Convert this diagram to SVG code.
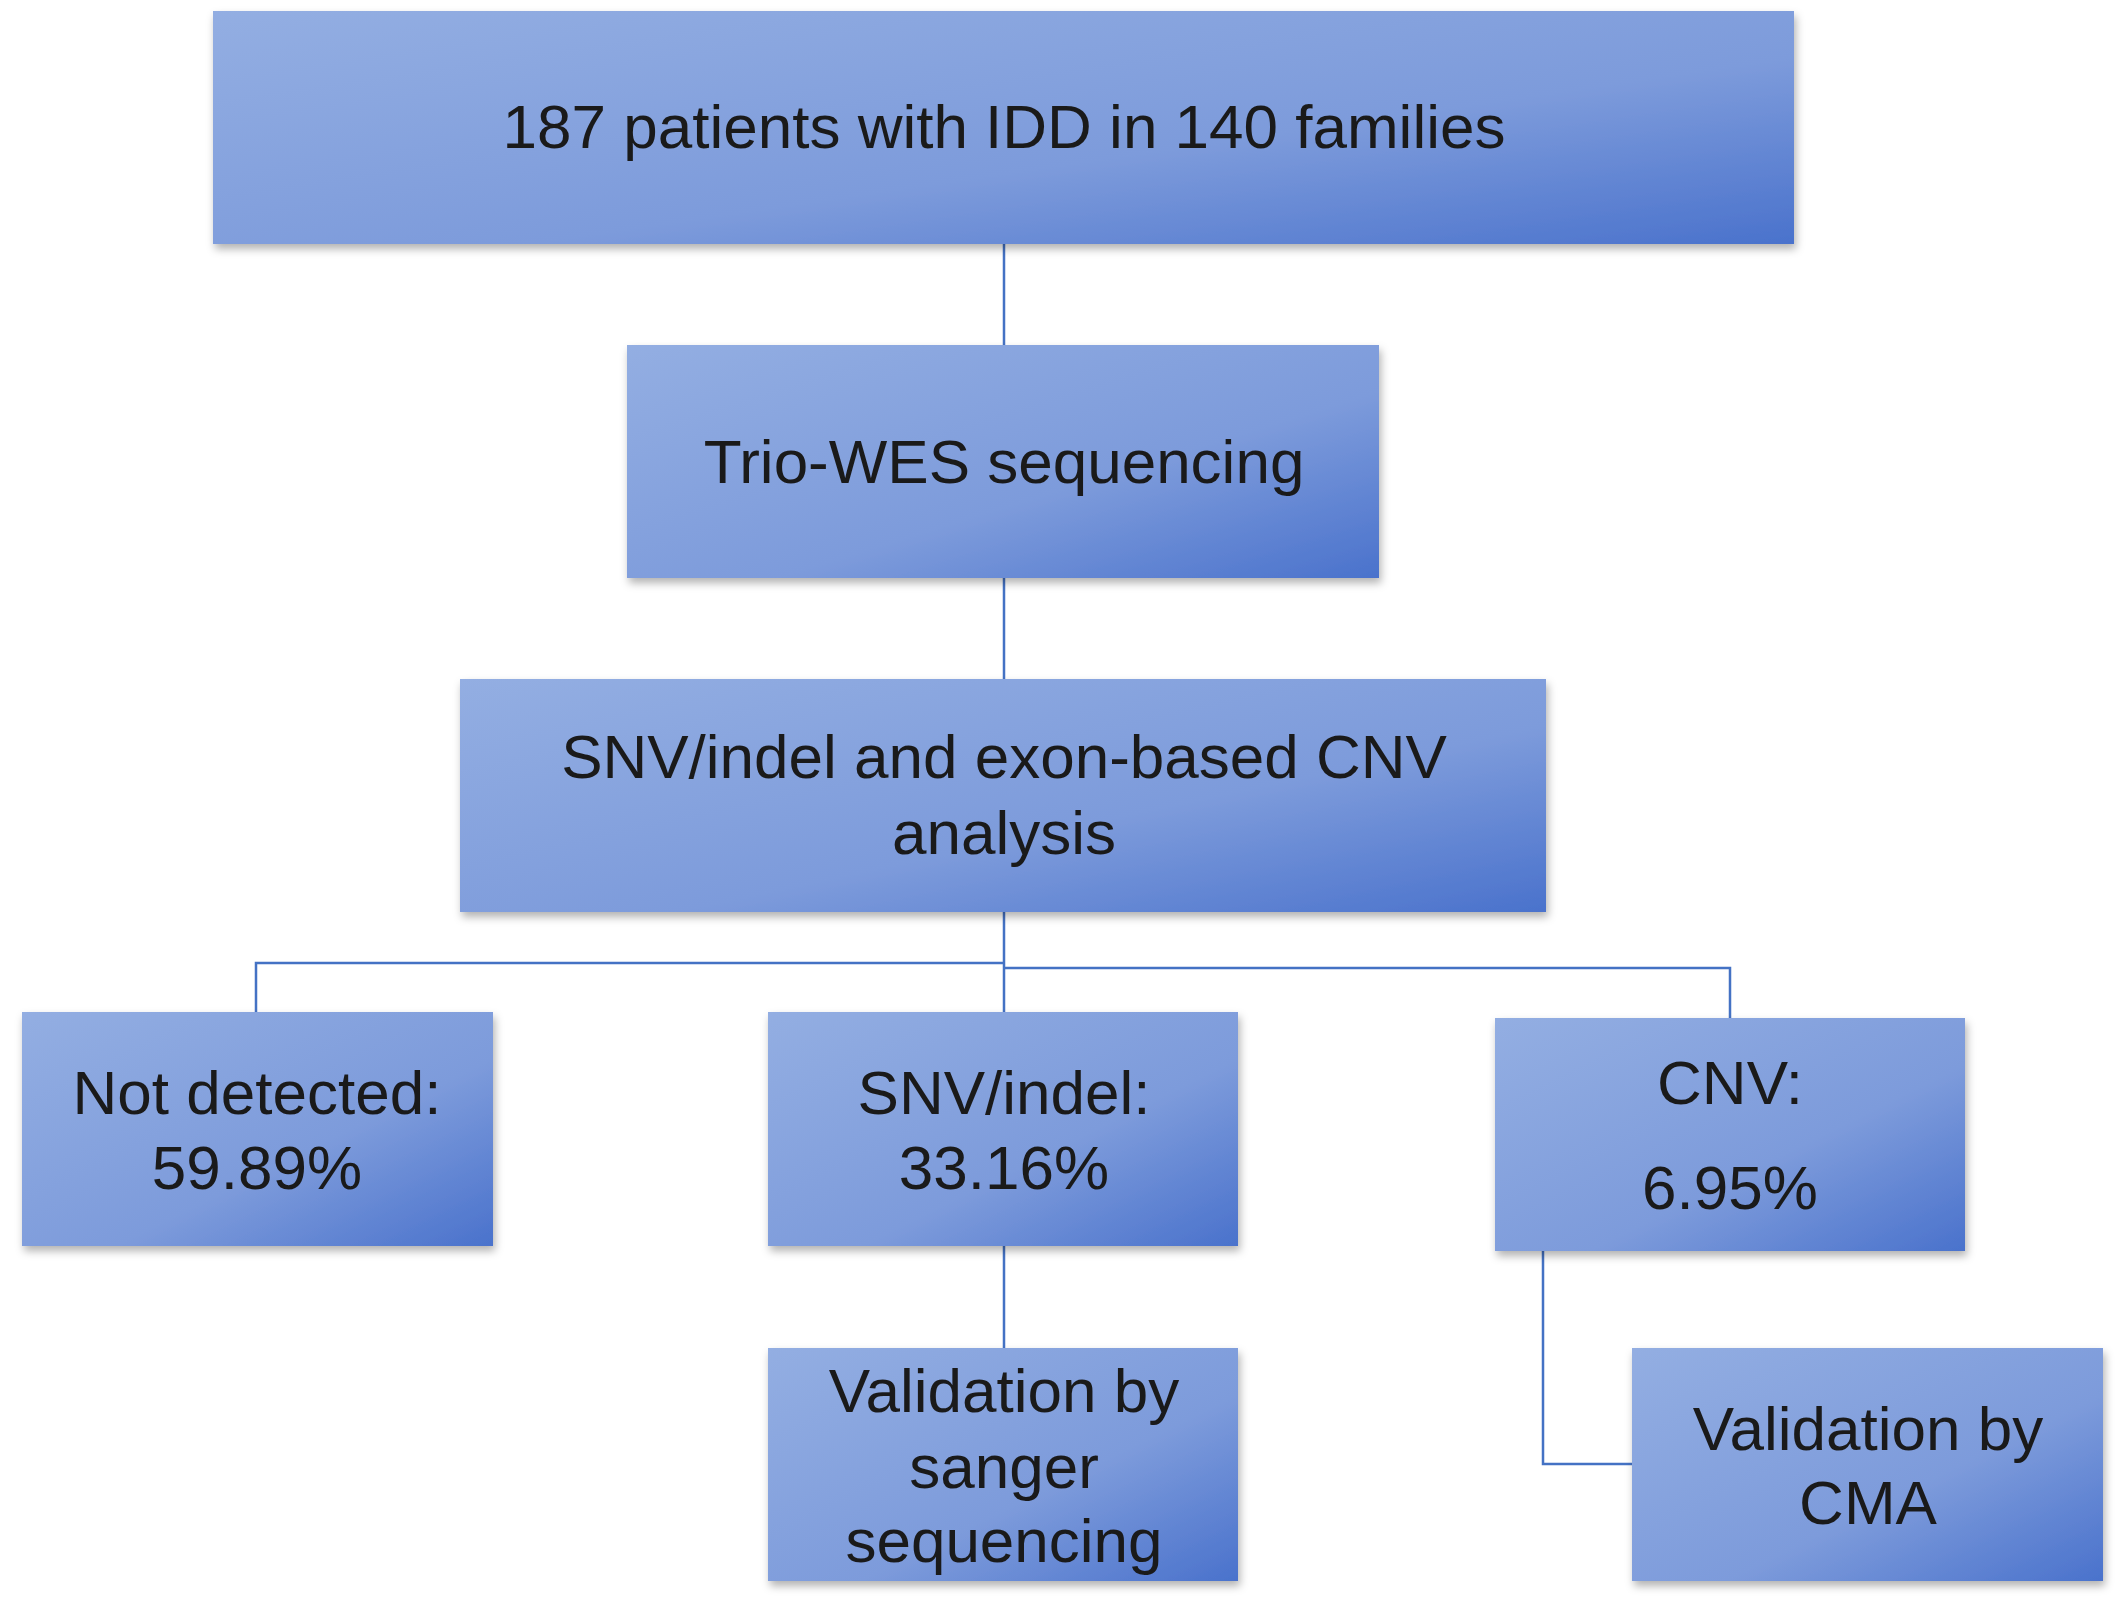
<svg xmlns="http://www.w3.org/2000/svg" width="2128" height="1617" viewBox="0 0 2128 1617">
<defs>
<linearGradient id="g" x1="0" y1="0" x2="1" y2="1">
<stop offset="0" stop-color="#93aee2"/>
<stop offset="0.6" stop-color="#7d9bdb"/>
<stop offset="1" stop-color="#4a72cc"/>
</linearGradient>
<filter id="s" x="-5%" y="-5%" width="110%" height="115%">
<feDropShadow dx="2" dy="5" stdDeviation="4" flood-color="#000" flood-opacity="0.3"/>
</filter>
</defs>
<style>
.b{fill:url(#g);filter:url(#s)}
text{font-family:"Liberation Sans",Arial,sans-serif;font-size:62px;fill:#1a1a1a;text-anchor:middle;dominant-baseline:central}
.c{stroke:#4472c4;stroke-width:2.5;fill:none}
</style>
<rect width="2128" height="1617" fill="#ffffff"/>
<g id="connectors">
<path class="c" d="M1004 244V345M1004 578V679M1004 912V1012M256 1012V963H1004M1004 968H1730V1018M1004 1246V1348M1543 1251V1464H1632"/>
</g>
<g id="n1"><rect class="b" x="213" y="11" width="1581" height="233"/><text x="1004" y="126">187 patients with IDD in 140 families</text></g>
<g id="n2"><rect class="b" x="627" y="345" width="752" height="233"/><text x="1004" y="461">Trio-WES sequencing</text></g>
<g id="n3"><rect class="b" x="460" y="679" width="1086" height="233"/><text x="1004" y="756">SNV/indel and exon-based CNV</text><text x="1004" y="832">analysis</text></g>
<g id="n4"><rect class="b" x="22" y="1012" width="471" height="234"/><text x="257" y="1092">Not detected:</text><text x="257" y="1167">59.89%</text></g>
<g id="n5"><rect class="b" x="768" y="1012" width="470" height="234"/><text x="1004" y="1092">SNV/indel:</text><text x="1004" y="1167">33.16%</text></g>
<g id="n6"><rect class="b" x="1495" y="1018" width="470" height="233"/><text x="1730" y="1082">CNV:</text><text x="1730" y="1187">6.95%</text></g>
<g id="n7"><rect class="b" x="768" y="1348" width="470" height="233"/><text x="1004" y="1390">Validation by</text><text x="1004" y="1466">sanger</text><text x="1004" y="1540">sequencing</text></g>
<g id="n8"><rect class="b" x="1632" y="1348" width="471" height="233"/><text x="1868" y="1428">Validation by</text><text x="1868" y="1502">CMA</text></g>
</svg>
